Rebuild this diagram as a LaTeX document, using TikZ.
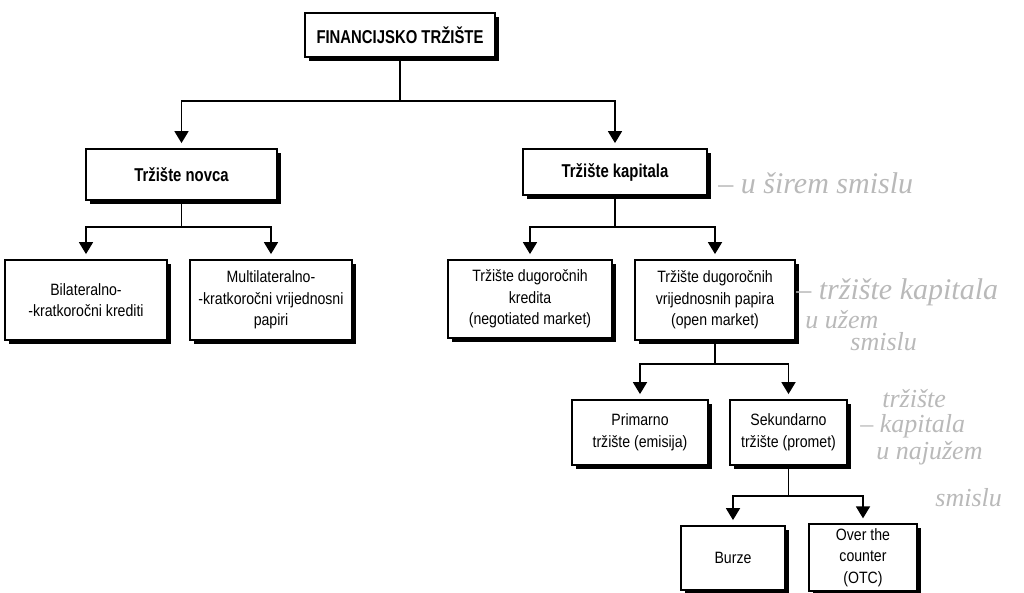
\documentclass[tikz,border=0pt]{standalone}
\usepackage{fontspec}
\setmainfont[FakeStretch=0.86]{Liberation Sans}
\newfontfamily\headfont[FakeStretch=0.8]{Liberation Sans}
\newfontfamily\handfont{Liberation Serif}
\usetikzlibrary{arrows.meta, shadows}
\tikzset{
  box/.style={draw, line width=0.9pt, fill=white, align=center, inner sep=2pt,
    drop shadow={shadow xshift=2pt, shadow yshift=-2pt, fill=black, opacity=1},
    font=\fontsize{8.2}{10.8}\selectfont},
  head/.style={box, font=\headfont\bfseries\fontsize{9.3}{11}\selectfont},
  link/.style={line width=0.9pt},
  arr/.style={link, -{Triangle[width=7pt,length=6pt]}, shorten >=2.5pt},
  note/.style={text=gray!55, anchor=west, inner sep=0pt,
    font=\handfont\itshape\fontsize{15}{16}\selectfont},
  smallnote/.style={note, font=\handfont\itshape\fontsize{13}{14}\selectfont},
}

\begin{document}
\begin{tikzpicture}[x=0.5pt,y=-0.5pt]
  \useasboundingbox (0,0) rectangle (1024,593);

  % boxes
  \node[head, minimum width=95pt, minimum height=22pt] (fin) at (400,35) {FINANCIJSKO TRŽIŠTE};
  \node[head, minimum width=95.5pt, minimum height=25.5pt] (novca) at (181.5,174.5) {Tržište novca};
  \node[head, minimum width=92pt, minimum height=23pt] (kapital) at (615,172) {Tržište kapitala};
  \node[box, minimum width=81pt, minimum height=40pt] (bilat) at (86,300) {Bilateralno-\\-kratkoročni krediti};
  \node[box, minimum width=81pt, minimum height=40pt] (multi) at (271,300) {Multilateralno-\\-kratkoročni vrijednosni\\papiri};
  \node[box, minimum width=82pt, minimum height=39pt] (kred) at (530,299) {Tržište dugoročnih\\kredita\\(negotiated market)};
  \node[box, minimum width=80pt, minimum height=40pt] (vpap) at (715,300) {Tržište dugoročnih\\vrijednosnih papira\\(open market)};
  \node[box, minimum width=68pt, minimum height=32.5pt] (prim) at (640,432.5) {Primarno\\tržište (emisija)};
  \node[box, minimum width=58.5pt, minimum height=32.5pt] (sek) at (788.5,432.5) {Sekundarno\\tržište (promet)};
  \node[box, minimum width=52pt, minimum height=32pt] (burze) at (733,558) {Burze};
  \node[box, minimum width=54pt, minimum height=32.5pt] (otc) at (863,557.5) {Over the\\counter\\(OTC)};

  % connectors
  \draw[link] (fin.south) -- ++(0,43) coordinate (b0);
  \draw[arr] (b0) -| (novca.north);
  \draw[arr] (b0) -| (kapital.north);

  \draw[link] (novca.south) -- ++(0,26) coordinate (b1);
  \draw[arr] (b1) -| (bilat.north);
  \draw[arr] (b1) -| (multi.north);

  \draw[link] (kapital.south) -- ++(0,31) coordinate (b2);
  \draw[arr] (b2) -| (kred.north);
  \draw[arr] (b2) -| (vpap.north);

  \draw[link] (vpap.south) -- ++(0,23) coordinate (b3);
  \draw[arr] (b3) -| (prim.north);
  \draw[arr] (b3) -| (sek.north);

  \draw[link] (sek.south) -- ++(0,30) coordinate (b4);
  \draw[arr] (b4) -| (burze.north);
  \draw[arr] (b4) -| (otc.north);

  % pencil notes
  \node[note] (n1) at (718,183) {– u širem smislu};
  \node[note] (n2) at (796,292) {– tržište kapitala};
  \node[smallnote] (n3) at (805,320) {u užem};
  \node[smallnote] (n4) at (850,342) {smislu};
  \node[smallnote] (n5) at (882,399) {tržište};
  \node[smallnote] (n6) at (860,426) {– kapitala};
  \node[smallnote] (n7) at (876,453) {u najužem};
  \node[smallnote] (n8) at (935,498) {smislu};
\end{tikzpicture}
\end{document}
